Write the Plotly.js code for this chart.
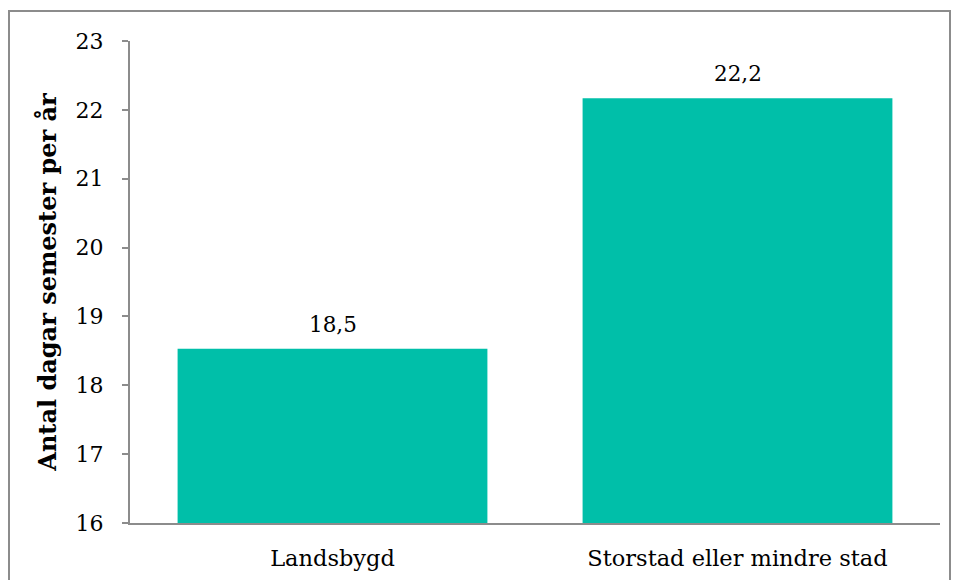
<!DOCTYPE html>
<html>
<head>
<meta charset="utf-8">
<script src="https://cdn.plot.ly/plotly-3.0.1.min.js"></script>
<style>
html,body{margin:0;padding:0;background:#fff;}
#wrap{position:relative;width:957px;height:580px;}
#chart{position:absolute;left:0;top:0;width:957px;height:580px;}
#frame{position:absolute;left:8px;top:10px;width:939px;height:600px;border:2px solid #8c8c8c;pointer-events:none;}
</style>
</head>
<body>
<div id="wrap"><div id="chart"></div><div id="frame"></div></div>
<script>
const categories = ["Landsbygd", "Storstad eller mindre stad"];
const values = [18.53, 22.17];
const yTicks = [16, 17, 18, 19, 20, 21, 22, 23];
const yTitle = "Antal dagar semester per år";

const font = "Georgia, 'DejaVu Serif', serif";

const annotations = categories.map((c, i) => ({
  x: c, y: values[i], xref: "x", yref: "y",
  text: values[i].toFixed(1).replace(".", ","),
  showarrow: false, yanchor: "bottom", yshift: 10,
  font: {family: font, size: 21.5, color: "#000"}
}));

Plotly.newPlot("chart", [{
  type: "bar",
  x: categories,
  y: values,
  marker: {color: "#00BFA9"},
  hoverinfo: "skip"
}], {
  width: 957, height: 580,
  margin: {l: 130, r: 17, t: 41, b: 57},
  paper_bgcolor: "#fff", plot_bgcolor: "#fff",
  separators: ", ",
  bargap: 0.235,
  showlegend: false,
  annotations: annotations,
  font: {family: font, size: 20, color: "#000"},
  xaxis: {
    type: "category",
    showline: true, linecolor: "#8c8c8c", linewidth: 2,
    ticks: "", showgrid: false, zeroline: false,
    ticklabelstandoff: 14,
    tickfont: {family: font, size: 22.5, color: "#000"}
  },
  yaxis: {
    range: [16, 23],
    tickvals: yTicks,
    ticktext: yTicks.map(String),
    showline: true, linecolor: "#8c8c8c", linewidth: 2,
    ticks: "outside", ticklen: 6, tickcolor: "#8c8c8c", tickwidth: 2,
    showgrid: false, zeroline: false,
    ticklabelstandoff: 14,
    tickfont: {family: font, size: 22, color: "#000"},
    title: {text: "<b>" + yTitle + "</b>", font: {family: font, size: 24, color: "#000"}, standoff: 12}
  }
}, {displayModeBar: false, staticPlot: true});
</script>
</body>
</html>
